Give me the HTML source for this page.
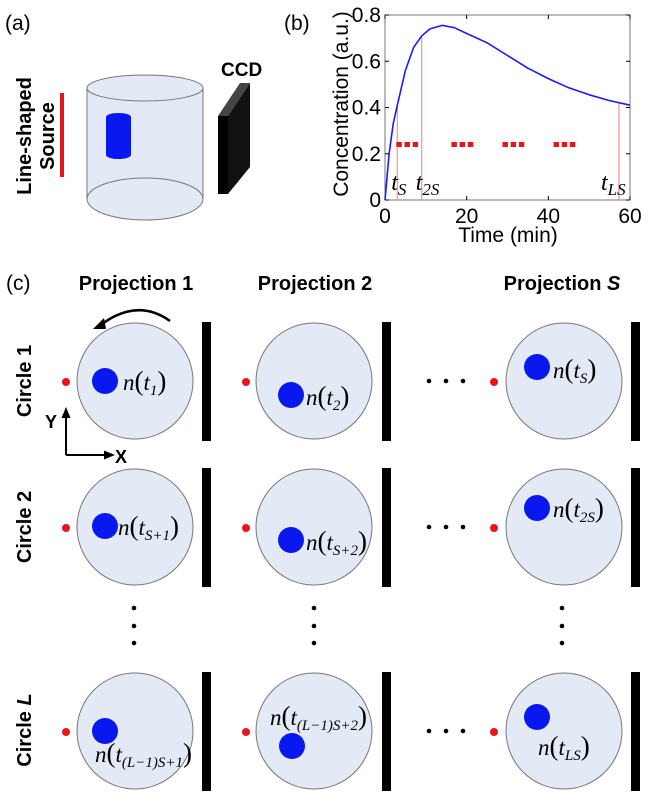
<!DOCTYPE html>
<html><head><meta charset="utf-8">
<style>
html,body{margin:0;padding:0;background:#fff;}
svg{display:block;font-family:"Liberation Sans",sans-serif;}
.it{font-family:"Liberation Serif",serif;font-style:italic;}
</style></head>
<body>
<svg id="fig" width="651" height="800" viewBox="0 0 651 800">
  <!-- Panel a -->
  <g>
    <text x="5" y="30" font-size="21">(a)</text>
    <rect x="60" y="93" width="4" height="84" fill="#e8141c"/>
    <text transform="translate(31,136) rotate(-90)" text-anchor="middle" font-size="20" font-weight="bold">Line-shaped</text>
    <text transform="translate(54,136) rotate(-90)" text-anchor="middle" font-size="20" font-weight="bold">Source</text>
    <path d="M87,88 L87,199 A58,21 0 0 0 203,199 L203,88 Z" fill="#e3e9f5" stroke="#777" stroke-width="1"/>
    <ellipse cx="145" cy="88" rx="58" ry="13" fill="#e3e9f5" stroke="#777"/>
    <path d="M87,199 A58,21 0 0 1 203,199" fill="none" stroke="#777"/>
    <rect x="106" y="117" width="25" height="38" fill="#0a18f0"/>
    <ellipse cx="118.5" cy="117" rx="12.5" ry="4" fill="#0a18f0"/>
    <ellipse cx="118.5" cy="155" rx="12.5" ry="4" fill="#0a18f0"/>
    <polygon points="218,116 240,83 250,83 228,116" fill="#444"/>
    <polygon points="228,116 250,83 250,167 228,194" fill="#111"/>
    <rect x="218" y="116" width="10" height="78" fill="#000"/>
    <text x="221" y="76" font-size="19" font-weight="bold">CCD</text>
  </g>
  <!-- Panel b chart -->
  <g id="chart"></g>
  <!-- Panel c -->
  <g id="panelc">
    <text x="6" y="290" font-size="21">(c)</text>
    <text x="136" y="290" text-anchor="middle" font-size="20" font-weight="bold">Projection 1</text>
    <text x="315" y="290" text-anchor="middle" font-size="20" font-weight="bold">Projection 2</text>
    <text x="562" y="290" text-anchor="middle" font-size="20" font-weight="bold">Projection <tspan font-style="italic">S</tspan></text>
    <text transform="translate(31,381) rotate(-90)" text-anchor="middle" font-size="20" font-weight="bold">Circle 1</text>
    <text transform="translate(31,527) rotate(-90)" text-anchor="middle" font-size="20" font-weight="bold">Circle 2</text>
    <text transform="translate(31,730) rotate(-90)" text-anchor="middle" font-size="20" font-weight="bold">Circle <tspan font-style="italic">L</tspan></text>
    <path d="M170,321 Q138,298 102,324" fill="none" stroke="#000" stroke-width="2.5"/>
    <polygon points="93,329 104,318 106,329" fill="#000"/>
    <g>
      <line x1="66" y1="455" x2="66" y2="416" stroke="#000" stroke-width="2"/>
      <polygon points="66,407 61.5,418 70.5,418" fill="#000"/>
      <line x1="66" y1="455" x2="106" y2="455" stroke="#000" stroke-width="2"/>
      <polygon points="115,455 104,450.5 104,459.5" fill="#000"/>
      <text x="45" y="428" font-size="18" font-weight="bold">Y</text>
      <text x="115" y="463" font-size="18" font-weight="bold">X</text>
    </g>
  </g>
</svg>
<script>
// ---- Chart data (panel b) ----
const timeMin = [0,1,2,3,5,7,9,11,14,17,20,25,30,35,40,45,50,55,60];
const concentration = [0,0.2,0.33,0.41,0.56,0.66,0.71,0.74,0.755,0.745,0.72,0.68,0.625,0.57,0.525,0.485,0.455,0.43,0.41];
const xTicks = [0,20,40,60];
const yTicks = [0,0.2,0.4,0.6,0.8];
const markerTimes = [3,9,57.3];
const markerLabels = ["S","2S","LS"];
const dotLevel = [0.24];
const dotGroupStarts = [3.5,17,29.5,42];

const NS="http://www.w3.org/2000/svg";
const X0=385,X1=630,Y0=200,Y1=15;
const sx=t=>X0+(t-0)/(60-0)*(X1-X0);
const sy=v=>Y0-(v-0)/(0.8-0)*(Y0-Y1);
function mk(tag,attrs,parent){const e=document.createElementNS(NS,tag);for(const k in attrs)e.setAttribute(k,attrs[k]);parent.appendChild(e);return e;}
const g=document.getElementById('chart');

let el=mk('text',{x:284,y:30,'font-size':21},g);el.textContent='(b)';



el=mk('rect',{x:X0,y:Y1,width:X1-X0,height:Y0-Y1,fill:'none',stroke:'#777','stroke-width':1},g);



xTicks.forEach(t=>{
  const x=sx(t);
  mk('line',{x1:x,y1:Y0,x2:x,y2:Y0-4,stroke:'#000'},g);
  mk('line',{x1:x,y1:Y1,x2:x,y2:Y1+4,stroke:'#000'},g);
  const tx=mk('text',{x:x,y:223,'text-anchor':'middle','font-size':21},g);
  tx.textContent=t;
  
  
});
yTicks.forEach(v=>{
  const y=sy(v);
  mk('line',{x1:X0,y1:y,x2:X0+4,y2:y,stroke:'#000'},g);
  mk('line',{x1:X1,y1:y,x2:X1-4,y2:y,stroke:'#000'},g);
  const tx=mk('text',{x:X0-4,y:y+7,'text-anchor':'end','font-size':21},g);
  tx.textContent=(v===0?'0':v.toFixed(1));
  
  
});
el=mk('text',{x:508,y:242,'text-anchor':'middle','font-size':21},g);el.textContent='Time (min)';


el=mk('text',{transform:'translate(348,104) rotate(-90)','text-anchor':'middle','font-size':21},g);el.textContent='Concentration (a.u.)';



const interp=t=>{for(let i=1;i<timeMin.length;i++){if(t<=timeMin[i]){const f=(t-timeMin[i-1])/(timeMin[i]-timeMin[i-1]);return concentration[i-1]+f*(concentration[i]-concentration[i-1]);}}return concentration[concentration.length-1];};
markerTimes.forEach((t,i)=>{
  const x=sx(t);
  el=mk('line',{x1:x,y1:Y0,x2:x,y2:sy(interp(t)),stroke:'#f08080','stroke-width':1},g);
  
  
  const tx=mk('text',{x:x-(i===2?18:6),y:190,'font-size':24,class:'it'},g);
  tx.innerHTML='t<tspan font-size="17" dy="5">'+markerLabels[i]+'</tspan>';
  
  
});
dotGroupStarts.forEach(s=>{
  for(let k=0;k<3;k++){
    const d=mk('rect',{x:sx(s+k*2)-3,y:sy(dotLevel[0])-2.5,width:5.5,height:5,fill:'#e8141c'},g);
    
    
  }
});
let dstr=timeMin.map((t,i)=>(i?'L':'M')+sx(t).toFixed(1)+','+sy(concentration[i]).toFixed(1)).join(' ');
el=mk('path',{d:dstr,fill:'none',stroke:'#1a1aff','stroke-width':1.6,'stroke-linejoin':'round'},g);



// ---- Panel c ----
const pc=document.getElementById('panelc');
const colCx=[135,314,564], rowCy=[381,527,731];
const barX=[202,382,631], srcX=[66,246,494];
const blobs=[[[105,0],[291,14],[537,-14]],[[105,-1],[291,13],[537,-19]],[[105,0],[292,15],[537,-14]]];
const labels=[
 [['1',123,9],['2',306,24],['S',553,-3]],
 [['S+1',118,8],['S+2',306,23],['2S',553,-10]],
 [['(L−1)S+1',95,31],['(L−1)S+2',270,-6],['LS',538,24]]];
rowCy.forEach((cy,r)=>{
  colCx.forEach((cx,c)=>{
    el=mk('ellipse',{cx:cx,cy:cy,rx:58,ry:58,fill:'#e3e9f5',stroke:'#777'},pc);
    
    
    el=mk('rect',{x:barX[c],y:cy-59,width:9,height:119,fill:'#000'},pc);
    
    
    el=mk('circle',{cx:srcX[c],cy:cy+1,r:4,fill:'#e8141c'},pc);
    
    
    const b=blobs[r][c];
    el=mk('circle',{cx:b[0],cy:cy+b[1],r:13,fill:'#0a18f0'},pc);
    
    
    const L=labels[r][c];
    const tx=mk('text',{x:L[1],y:cy+L[2],'font-size':23,class:'it'},pc);
    tx.innerHTML='n<tspan font-style="normal" font-size="27">(</tspan>t<tspan font-size="15" dy="5">'+L[0]+'</tspan><tspan dy="-5" font-style="normal" font-size="27">)</tspan>';
    
    
  });
  [429,446,463].forEach(x=>{
    el=mk('circle',{cx:x,cy:cy,r:2.3,fill:'#000'},pc);
    
    
  });
});
[134,314,562].forEach(x=>{[608,626,643].forEach(y=>{
  el=mk('circle',{cx:x,cy:y,r:2.3,fill:'#000'},pc);
  
  
});});
</script>
</body></html>
